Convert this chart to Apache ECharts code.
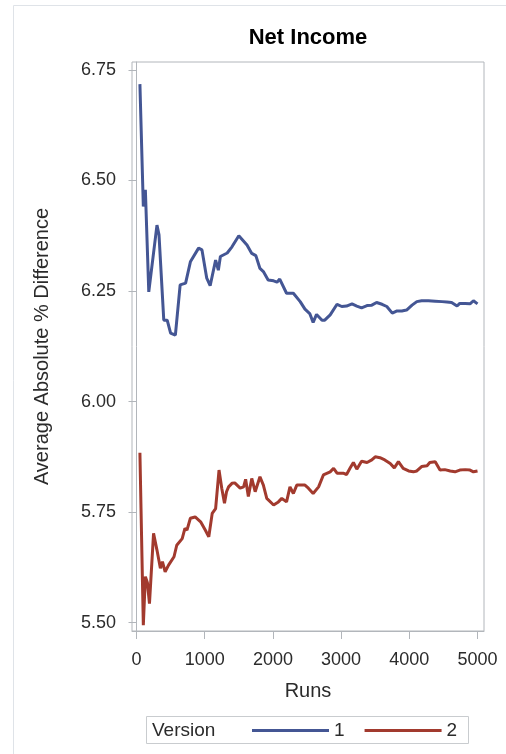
<!DOCTYPE html>
<html>
<head>
<meta charset="utf-8">
<script src="https://cdn.jsdelivr.net/npm/echarts@6/dist/echarts.min.js"></script>
<style>
  html, body { margin: 0; padding: 0; background: #ffffff; }
  #chart { width: 506px; height: 754px; }
</style>
</head>
<body>
<div id="chart"></div>
<script>
// Average absolute % difference of net income by number of runs, per version
const runsV1 = [50,100,130,180,300,330,400,450,500,570,640,720,790,910,960,1030,1080,1160,1200,1230,1330,1400,1500,1620,1690,1750,1810,1860,1930,2010,2060,2100,2200,2300,2400,2470,2540,2590,2640,2720,2760,2840,2940,3010,3080,3160,3230,3300,3380,3450,3520,3600,3670,3750,3820,3890,3960,4040,4110,4180,4280,4380,4480,4550,4620,4700,4740,4820,4890,4940,5000];
const incomeV1 = [6.718,6.441,6.479,6.248,6.399,6.377,6.184,6.184,6.155,6.150,6.264,6.268,6.316,6.347,6.343,6.279,6.262,6.320,6.297,6.328,6.336,6.350,6.375,6.354,6.335,6.330,6.301,6.294,6.275,6.273,6.270,6.277,6.245,6.245,6.226,6.209,6.199,6.179,6.197,6.184,6.184,6.196,6.220,6.215,6.216,6.221,6.216,6.212,6.217,6.218,6.224,6.220,6.215,6.200,6.205,6.205,6.207,6.218,6.226,6.228,6.228,6.227,6.226,6.225,6.224,6.216,6.222,6.222,6.221,6.228,6.221];

const runsV2 = [50,100,130,160,190,250,300,350,380,420,470,550,590,670,710,740,790,860,940,1010,1060,1110,1160,1210,1250,1290,1320,1350,1400,1440,1520,1570,1600,1640,1690,1740,1810,1860,1910,2010,2080,2130,2200,2250,2300,2350,2470,2520,2590,2670,2740,2840,2890,2940,3030,3080,3130,3180,3230,3300,3380,3450,3500,3570,3640,3720,3780,3840,3910,3990,4060,4110,4180,4260,4300,4380,4450,4520,4600,4670,4740,4820,4890,4940,5000];
const incomeV2 = [5.884,5.494,5.604,5.590,5.543,5.702,5.664,5.623,5.638,5.615,5.630,5.649,5.675,5.690,5.713,5.709,5.736,5.739,5.728,5.709,5.694,5.747,5.758,5.845,5.804,5.770,5.796,5.807,5.815,5.816,5.804,5.807,5.824,5.785,5.826,5.796,5.830,5.811,5.781,5.766,5.773,5.781,5.773,5.807,5.792,5.811,5.811,5.804,5.792,5.807,5.834,5.841,5.849,5.838,5.838,5.835,5.849,5.862,5.847,5.865,5.862,5.868,5.875,5.873,5.868,5.860,5.850,5.864,5.849,5.843,5.841,5.843,5.853,5.855,5.862,5.864,5.845,5.846,5.843,5.841,5.845,5.846,5.845,5.841,5.843];

const versionNames = ['1', '2'];
const xTicks = [0, 1000, 2000, 3000, 4000, 5000];
const yTicks = [5.50, 5.75, 6.00, 6.25, 6.50, 6.75];

const FONT = '"Liberation Sans", Arial, sans-serif';
const FRAME = '#b2b6bb';
const TEXT = '#2b2b2b';

function pairs(xs, ys) {
  return xs.map((x, i) => [x, ys[i]]);
}

const chart = echarts.init(document.getElementById('chart'), null, { renderer: 'canvas' });

chart.setOption({
  animation: false,
  backgroundColor: '#ffffff',
  textStyle: { fontFamily: FONT },
  title: {
    text: 'Net Income',
    left: 308,
    top: 27,
    textAlign: 'center',
    padding: 0,
    textStyle: { fontFamily: FONT, fontSize: 22, fontWeight: 'bold', color: '#000000' }
  },
  grid: {
    left: 132, top: 62, right: 22, bottom: 123,
    show: true, borderColor: FRAME, borderWidth: 1, backgroundColor: 'transparent'
  },
  xAxis: {
    type: 'value',
    min: -66, max: 5095,
    name: 'Runs',
    nameLocation: 'middle',
    nameGap: 50,
    nameTextStyle: { fontFamily: FONT, fontSize: 20, color: TEXT },
    axisLine: { show: true, onZero: false, lineStyle: { color: FRAME, width: 1 } },
    axisTick: { show: true, customValues: xTicks, length: 8, lineStyle: { color: FRAME } },
    axisLabel: {
      customValues: xTicks, fontSize: 18, color: TEXT, margin: 20,
      formatter: v => String(Math.round(v))
    },
    splitLine: { show: false }
  },
  yAxis: {
    type: 'value',
    min: 5.481, max: 6.768,
    name: 'Average Absolute % Difference',
    nameLocation: 'middle',
    nameRotate: 90,
    nameGap: 80,
    nameTextStyle: { fontFamily: FONT, fontSize: 20, color: TEXT },
    axisLine: { show: true, lineStyle: { color: FRAME, width: 1 } },
    axisTick: { show: true, customValues: yTicks, length: 8, lineStyle: { color: FRAME } },
    axisLabel: {
      customValues: yTicks, fontSize: 18, color: TEXT, margin: 16,
      formatter: v => Number(v).toFixed(2)
    },
    splitLine: { show: false }
  },
  legend: {
    data: versionNames,
    icon: 'rect',
    left: 252,
    top: 721,
    padding: 0,
    itemWidth: 77,
    itemHeight: 3,
    itemGap: 20,
    textStyle: { fontFamily: FONT, fontSize: 19, color: TEXT }
  },
  graphic: [
    {
      type: 'rect', silent: true, z: -10,
      shape: { x: 13.5, y: 5.5, width: 520, height: 780 },
      style: { fill: 'none', stroke: '#dfe3e8', lineWidth: 1 }
    },
    {
      type: 'rect', silent: true,
      shape: { x: 146.5, y: 716.5, width: 322, height: 27 },
      style: { fill: 'none', stroke: '#c9cccf', lineWidth: 1 }
    },
    {
      type: 'text', silent: true, x: 152, y: 731,
      style: { text: 'Version', fontFamily: FONT, fontSize: 19, fill: TEXT, verticalAlign: 'middle', align: 'left' }
    }
  ],
  series: [
    {
      name: versionNames[0],
      type: 'line',
      data: pairs(runsV1, incomeV1),
      symbol: 'none',
      showSymbol: false,
      lineStyle: { color: '#445694', width: 3 },
      itemStyle: { color: '#445694' }
    },
    {
      name: versionNames[1],
      type: 'line',
      data: pairs(runsV2, incomeV2),
      symbol: 'none',
      showSymbol: false,
      lineStyle: { color: '#a23a2e', width: 3 },
      itemStyle: { color: '#a23a2e' }
    }
  ]
});
</script>
</body>
</html>
